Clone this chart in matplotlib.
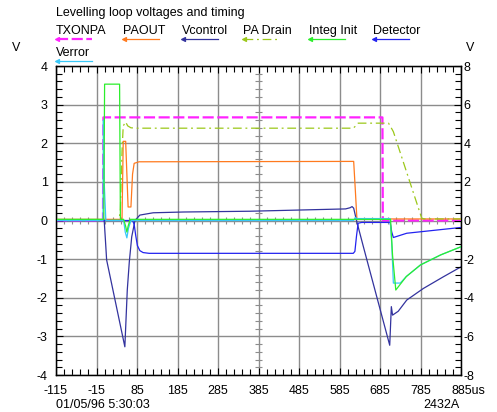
import numpy as np
import matplotlib.pyplot as plt
from matplotlib.lines import Line2D
from matplotlib.transforms import ScaledTranslation

plt.rcParams['font.family'] = ['Liberation Sans', 'DejaVu Sans']
plt.rcParams['font.size'] = 9
plt.rcParams['axes.unicode_minus'] = False

# --- data (time in us, values in left-axis volts) ---
txonpa_t = [-115, 1, 2, 691, 692, 885]
txonpa_v = [0.0, 0.0, 2.67, 2.67, 0.0, 0.0]

paout_t = [-115, 48, 51, 57, 63, 70, 74, 78, 90, 620, 624, 628, 885]
paout_v = [0.03, 0.03, 2.05, 2.05, 0.35, 0.35, 1.2, 1.48, 1.52, 1.53, 0.8, 0.04, 0.04]

vctrl_t = [-115, 4, 7, 10, 55, 61, 66, 72, 80, 92, 125, 200, 364, 600, 611, 616,
           620, 627, 644, 709, 713, 716, 730, 751, 792, 841, 885]
vctrl_v = [0.0, 0.0, -0.5, -1.02, -3.27, -1.8, -1.07, -0.42, 0.0, 0.14, 0.2, 0.22,
           0.24, 0.3, 0.33, 0.36, 0.32, 0.0, -0.68, -3.23, -2.23, -2.45, -2.35,
           -2.06, -1.76, -1.46, -1.2]

padrain_t = [-115, 41, 44, 48, 51, 57, 62, 70, 85, 619, 625, 631, 706, 710, 718, 788, 795, 885]
padrain_v = [0.02, 0.02, 0.3, 1.8, 2.45, 2.55, 2.45, 2.4, 2.39, 2.39, 2.45, 2.52, 2.52,
             2.45, 2.3, 0.06, 0.04, 0.04]

integ_t = [-115, 3, 5, 42, 44, 52, 57, 60, 63, 68, 711, 716, 724, 750, 785, 835, 885]
integ_v = [0.03, 0.03, 3.53, 3.53, 0.03, 0.03, -0.15, -0.3, -0.15, 0.03, 0.03, -0.9,
           -1.8, -1.45, -1.15, -0.89, -0.68]

det_t = [-115, 74, 78, 82, 86, 92, 100, 115, 619, 623, 627, 631, 640, 710, 714, 718,
         730, 751, 885]
det_v = [0.0, 0.0, -0.1, -0.4, -0.65, -0.78, -0.83, -0.85, -0.85, -0.8, -0.4, -0.07,
         -0.05, -0.05, -0.3, -0.44, -0.4, -0.33, -0.18]

verr_t = [-115, 1, 2, 4, 8, 12, 52, 56, 60, 64, 70, 620, 624, 628, 710, 714, 718,
          735, 750, 785, 835, 885]
verr_v = [0.0, 0.0, 2.6, 1.0, 0.0, 0.0, 0.0, -0.3, -0.45, -0.2, 0.0, 0.0, 0.08, 0.05,
          0.05, -0.6, -1.62, -1.62, -1.45, -1.15, -0.89, -0.68]

x_ticks = list(range(-115, 886, 100))
left_ticks = [4, 3, 2, 1, 0, -1, -2, -3, -4]
right_ticks = [8, 6, 4, 2, 0, -2, -4, -6, -8]

# name, t, v, colour, linestyle, linewidth, zorder
series = [
    ('TXONPA', txonpa_t, txonpa_v, '#ff22ff', (0, (5, 1.6)), 1.6, 3),
    ('PAOUT', paout_t, paout_v, '#ff7a1e', '-', 0.9, 3),
    ('Vcontrol', vctrl_t, vctrl_v, '#33339e', '-', 0.9, 3),
    ('PA Drain', padrain_t, padrain_v, '#9cc81a', (0, (7, 3, 1.5, 3)), 0.9, 3),
    ('Integ Init', integ_t, integ_v, '#2cee2c', '-', 0.9, 4),
    ('Detector', det_t, det_v, '#2323f0', '-', 0.9, 3),
    ('Verror', verr_t, verr_v, '#38c8f8', '-', 0.9, 3.5),
]

W, H = 497, 412
fig = plt.figure(figsize=(W / 100, H / 100), dpi=100)
ax = fig.add_axes([56 / W, 1 - 375 / H, 405 / W, 309 / H])

grid_c = '#8c8c8c'
ax.set_xlim(-115, 885)
ax.set_ylim(-4, 4)
ax.set_xticks(x_ticks)
ax.set_xticks(np.arange(-115, 886, 20), minor=True)
ax.set_yticks(left_ticks)
ax.set_yticks(np.arange(-4, 4.01, 0.2), minor=True)
ax.grid(True, which='major', color=grid_c, lw=1.0, zorder=1)
ax.set_axisbelow(True)

# center crosshair ticks
mx = np.arange(-115, 886, 20)
my = np.arange(-4, 4.01, 0.2)
ax.vlines(mx, -0.08, 0.08, color=grid_c, lw=0.8, zorder=1)
ax.hlines(my, 385 - 8, 385 + 8, color=grid_c, lw=0.8, zorder=1)

for name, t, v, c, ls, lw, z in series:
    ax.plot(t, v, color=c, ls=ls, lw=lw, zorder=z)

ax.tick_params(which='both', direction='in', top=True, right=False, width=0.8)
ax.tick_params(which='major', length=5)
ax.tick_params(which='minor', length=4)
ax.tick_params(axis='y', pad=6)
ax.tick_params(axis='x', pad=7)
xl = [str(x) for x in x_ticks]
xl[-1] = '885us'
ax.set_xticklabels(xl)
ax.set_yticklabels([str(y) for y in left_ticks])
for s in ax.spines.values():
    s.set_linewidth(1.0)

last = ax.xaxis.get_major_ticks()[-1]
last.label1.set_horizontalalignment('left')
last.label1.set_transform(last.label1.get_transform()
                          + ScaledTranslation(-0.095, 0, fig.dpi_scale_trans))

ax2 = ax.twinx()
ax2.set_ylim(-8, 8)
ax2.set_yticks(right_ticks)
ax2.set_yticks(np.arange(-8, 8.01, 0.4), minor=True)
ax2.set_yticklabels([str(y) for y in right_ticks])
ax2.tick_params(which='both', direction='in', width=0.8, pad=2)
ax2.tick_params(which='major', length=5)
ax2.tick_params(which='minor', length=4)

# texts
fig.text(56 / W, 1 - 16 / H, 'Levelling loop voltages and timing', va='baseline')
fig.text(16 / W, 1 - 48 / H, 'V', ha='center', va='center')
fig.text(470 / W, 1 - 48 / H, 'V', ha='center', va='center')
fig.text(56 / W, 0.5 / H, '01/05/96 5:30:03', va='bottom')
fig.text(460 / W, 0.5 / H, '2432A', ha='right', va='bottom')

# legend
leg_x = [56, 123, 182, 243, 309, 373, 56]
leg_y = [34, 34, 34, 34, 34, 34, 56]
for (name, t, v, c, ls, lw, z), xp, yp in zip(series, leg_x, leg_y):
    fig.text(xp / W, 1 - yp / H, name, va='baseline')
    ly = 1 - (yp + 5) / H
    fig.add_artist(Line2D([(xp + 1) / W, (xp + 36) / W], [ly, ly], color=c, ls=ls,
                          lw=lw, marker='<', markevery=[0], ms=3, mew=0.8))

fig.savefig('out.png', dpi=100)
